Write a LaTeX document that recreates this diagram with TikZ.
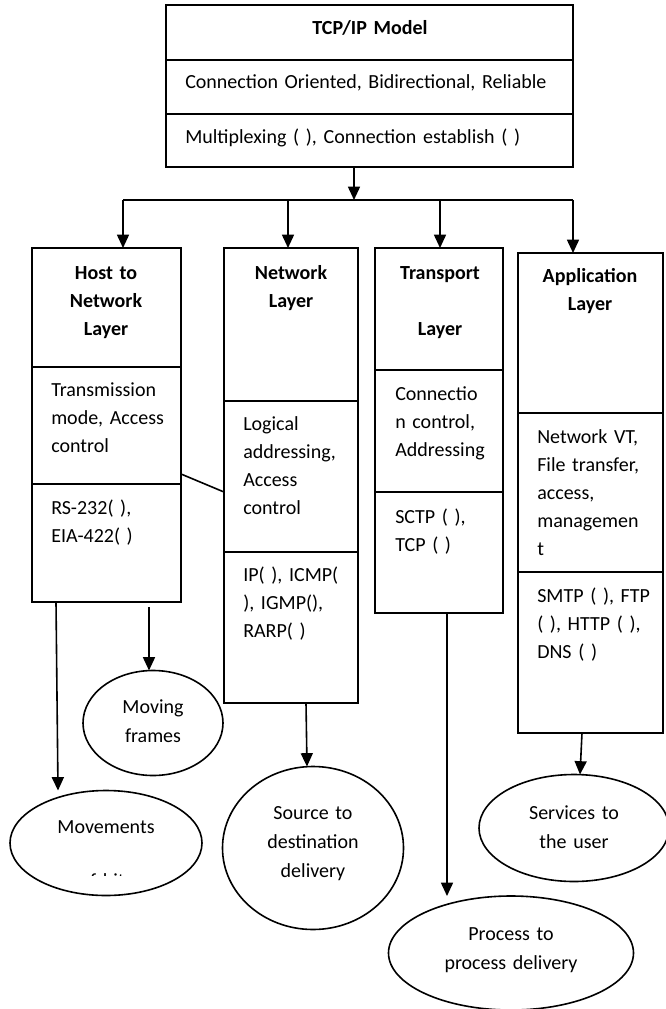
\documentclass[tikz,border=0pt]{standalone}
\usepackage{fontspec}
\setmainfont{Carlito}
\usetikzlibrary{fit,shapes.geometric,arrows.meta,calc}
\tikzset{
  cell/.style={draw, line width=1.3pt, inner sep=0pt, outer sep=0pt},
  oval/.style={draw, ellipse, line width=1.2pt, inner sep=0pt, outer sep=0pt},
  link/.style={line width=1.2pt},
  arr/.style={line width=1.2pt, -{Triangle[width=9pt,length=10pt]}},
  txt/.style={anchor=base west, inner sep=0pt, align=left, text width=120pt, font=\fontsize{15}{21}\selectfont},
  hdr/.style={anchor=base, inner sep=0pt, align=center, text width=110pt, font=\bfseries\fontsize{15}{21}\selectfont},
  lbl/.style={anchor=base, inner sep=0pt, align=center, text width=150pt, font=\fontsize{15}{21.75}\selectfont}
}
\begin{document}
\begin{tikzpicture}[x=0.75pt, y=-0.75pt]
\path[use as bounding box, fill=white] (0,0) rectangle (666,1009);

% top box
\node[cell, fit={(166,5) (573,60)}] (tb1) {};
\node[cell, fit={(166,60) (573,114)}] (tb2) {};
\node[cell, fit={(166,114) (573,167)}] (tb3) {};
\node[hdr, text width=200pt] (tbt1) at (370,35) {TCP/IP Model};
\node[txt, text width=300pt] (tbt2) at (185,89) {Connection Oriented, Bidirectional, Reliable};
\node[txt, text width=300pt] (tbt3) at (185,144) {Multiplexing ( ), Connection establish ( )};

% host to network
\node[cell, fit={(32,248) (181,367)}] (h1) {};
\node[cell, fit={(32,367) (181,484)}] (h2) {};
\node[cell, fit={(32,484) (181,602)}] (h3) {};
\node[hdr] (ht1) at (106,279) {Host to\\Network\\Layer};
\node[txt] (ht2) at (51,396) {Transmission\\mode, Access\\control};
\node[txt] (ht3) at (51,514) {RS-232( ),\\EIA-422( )};

% network
\node[cell, fit={(224,248) (358,401)}] (n1) {};
\node[cell, fit={(224,401) (358,552)}] (n2) {};
\node[cell, fit={(224,552) (358,703)}] (n3) {};
\node[hdr] (nt1) at (291,279) {Network\\Layer};
\node[txt] (nt2) at (243,430) {Logical\\addressing,\\Access\\control};
\node[txt] (nt3) at (243,581) {IP( ), ICMP(\\), IGMP(),\\RARP( )};

% transport
\node[cell, fit={(375,248) (503,370)}] (r1) {};
\node[cell, fit={(375,370) (503,492)}] (r2) {};
\node[cell, fit={(375,492) (503,613)}] (r3) {};
\node[hdr] (rt1) at (440,279) {Transport\\\mbox{}\\Layer};
\node[txt] (rt2) at (395,400) {Connectio\\n control,\\Addressing};
\node[txt] (rt3) at (395,523) {SCTP ( ),\\TCP ( )};

% application
\node[cell, fit={(518,253) (663,413)}] (a1) {};
\node[cell, fit={(518,413) (663,572)}] (a2) {};
\node[cell, fit={(518,572) (663,733)}] (a3) {};
\node[hdr] (at1) at (590,282) {Application\\Layer};
\node[txt] (at2) at (537,443) {Network VT,\\File transfer,\\access,\\managemen\\t};
\node[txt] (at3) at (537,602) {SMTP ( ), FTP\\( ), HTTP ( ),\\DNS ( )};

% ellipses
\node[oval, minimum width=105pt, minimum height=78.75pt] (mf) at (153,723) {};
\node[lbl] (mft) at (153,713) {Moving\\frames};
\node[oval, minimum width=144pt, minimum height=78.75pt] (mv) at (106,843) {};
\node[lbl] (mvt) at (106,833) {Movements};
\begin{scope}
\clip (10,860) rectangle (200,875);
\node[lbl] (mvc) at (106,887) {of bits};
\end{scope}
\node[oval, minimum width=135.75pt, minimum height=122.25pt] (src) at (313,848) {};
\node[lbl] (srct) at (313,819) {Source to\\destination\\delivery};
\node[oval, minimum width=142.5pt, minimum height=80.25pt] (srv) at (574,828) {};
\node[lbl] (srvt) at (574,819) {Services to\\the user};
\node[oval, minimum width=183.75pt, minimum height=85.5pt] (proc) at (511,953) {};
\node[lbl] (proct) at (511,940) {Process to\\process delivery};

% connectors
\coordinate (bus) at (354,200);
\coordinate (busL) at (123,200);
\coordinate (busN) at (288,200);
\coordinate (busT) at (440,200);
\coordinate (busR) at (573,200);
\draw[arr] (tb3.south -| bus) -- (bus);
\draw[link] (busL) -- (busR);
\draw[arr] (busL) -- (busL |- h1.north);
\draw[arr] (busN) -- (busN |- n1.north);
\draw[arr] (busT) -- (busT |- r1.north);
\draw[arr] (busR) -- (busR |- a1.north);

\draw[link] (h2.east |- 0,474) -- (n2.west |- 0,492);

\draw[arr] (h3.south -| 56,0) -- (mv.north -| 58,0);
\draw[arr] ($(h3.south -| 149,0)+(0,5)$) -- (mf.north -| 149,0);
\draw[arr] (n3.south -| 306,0) -- (src.north -| 307,0);
\draw[arr] (r3.south -| 447,0) -- (proc.north -| 447,0);
\draw[arr] (a3.south -| 582,0) -- (srv.north -| 580,0);
\end{tikzpicture}
\end{document}
